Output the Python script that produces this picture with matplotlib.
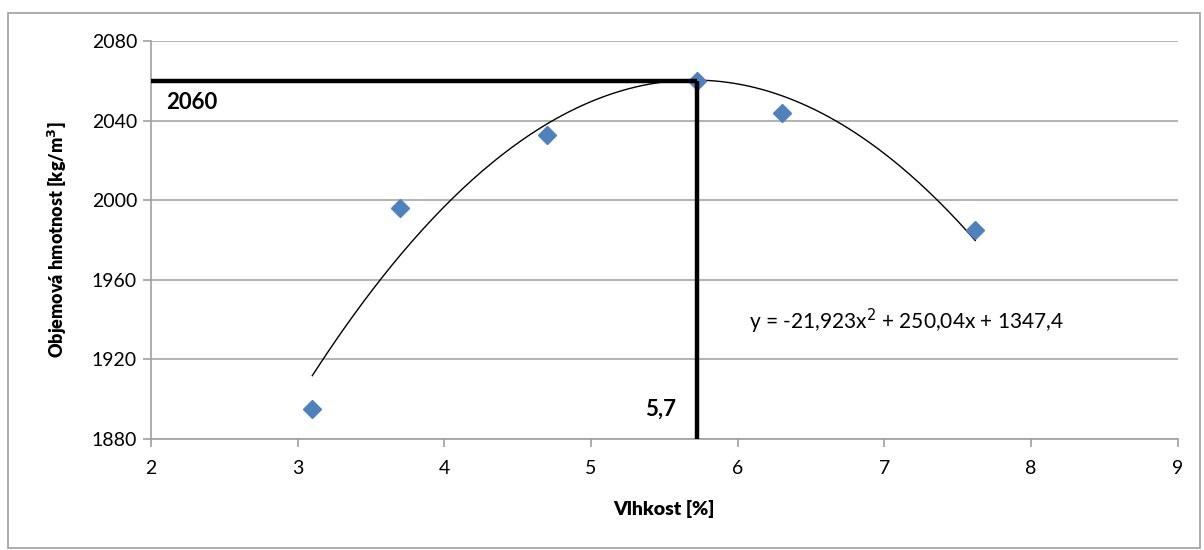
import matplotlib.pyplot as plt
from matplotlib.patches import Rectangle
import numpy as np

plt.rcParams['font.family'] = ['Lato', 'DejaVu Sans']

# measured points
vlhkost = [3.1, 3.7, 4.7, 5.72, 6.3, 7.62]
hmotnost = [1895, 1996, 2033, 2060, 2044, 1985]

# trend line (polynomial, order 2) as given in the chart
coef = [-21.923, 250.04, 1347.4]
opt_x = 5.72
opt_y = 2060

x_ticks = [2, 3, 4, 5, 6, 7, 8, 9]
y_ticks = [1880, 1920, 1960, 2000, 2040, 2080]

fig = plt.figure(figsize=(12.04, 5.5), dpi=100)
ax = fig.add_axes([0.1254, 0.2018, 0.8527, 0.7237])

# outer frame like the spreadsheet chart area
fig.patches.append(Rectangle((8 / 1204, 2 / 550), 1192 / 1204, 535 / 550,
                             transform=fig.transFigure, fill=False,
                             edgecolor='#A0A0A0', linewidth=1.2))

ax.set_xlim(2, 9)
ax.set_ylim(1880, 2080)
ax.set_xticks(x_ticks)
ax.set_yticks(y_ticks)
ax.grid(axis='y', color='#A6A6A6', linewidth=1.2)
ax.set_axisbelow(True)
for s in ['top', 'right']:
    ax.spines[s].set_visible(False)
for s in ['left', 'bottom']:
    ax.spines[s].set_color('#A0A0A0')
    ax.spines[s].set_linewidth(1.2)
ax.tick_params(axis='both', direction='out', length=6, color='#A0A0A0',
               labelsize=14, width=1.2)
ax.tick_params(axis='x', pad=9)
ax.tick_params(axis='y', pad=4)

xs = np.linspace(vlhkost[0], vlhkost[-1], 200)
ax.plot(xs, np.polyval(coef, xs), color='black', linewidth=1.0, zorder=3)

ax.plot(vlhkost, hmotnost, linestyle='none', marker='D', markersize=9.5,
        color='#4F81BD', zorder=4)

# thick guide lines to the optimum
ax.plot([2, opt_x], [opt_y, opt_y], color='black', linewidth=3.2,
        solid_capstyle='butt', zorder=5, clip_on=False)
ax.plot([opt_x, opt_x], [1880, opt_y], color='black', linewidth=3.2,
        solid_capstyle='butt', zorder=5, clip_on=False)

ax.text(2.1, 2049, '2060', fontsize=16, fontweight='bold', va='center', ha='left')
ax.text(opt_x - 0.14, 1895, '5,7', fontsize=16, fontweight='bold', va='center', ha='right')
ax.text(6.08, 1939, 'y = -21,923x$^2$ + 250,04x + 1347,4', fontsize=15,
        va='center', ha='left')

ax.set_xlabel('Vlhkost [%]', fontsize=14, fontweight='heavy', labelpad=17)
ax.set_ylabel('Objemová hmotnost [kg/m$^\\mathbf{3}$]', fontsize=13,
              fontweight='heavy', labelpad=16)

fig.savefig('out.png', dpi=100)
